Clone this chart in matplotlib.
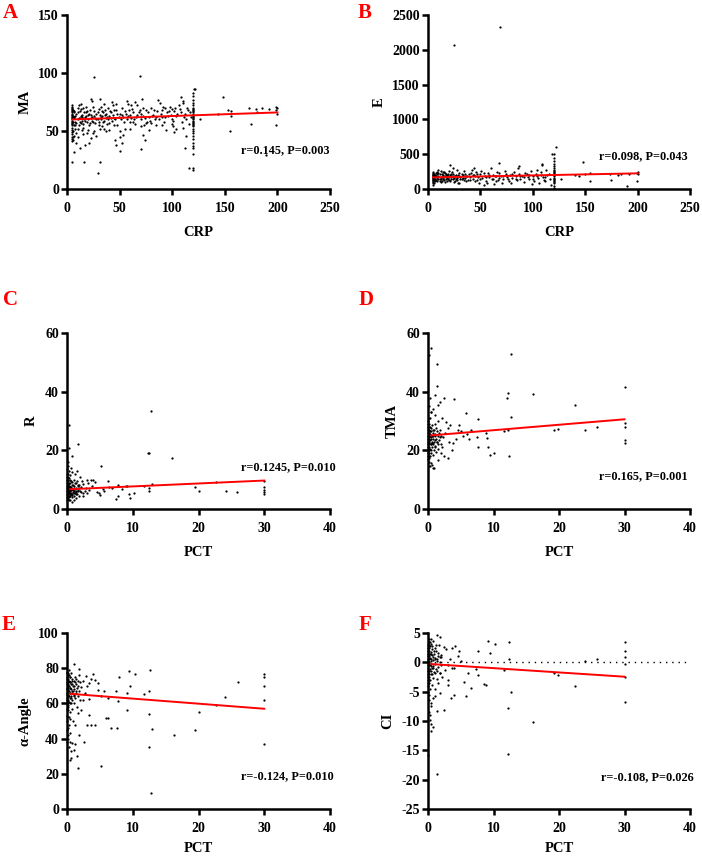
import matplotlib
matplotlib.use("Agg")
import matplotlib.pyplot as plt

plt.rcParams['font.family'] = ['Liberation Serif', 'DejaVu Serif']
plt.rcParams['font.weight'] = 'bold'
plt.rcParams['axes.unicode_minus'] = False

# ---------------- DATA ----------------
# Panel A: MA vs CRP
pts_a = [(5,41),(5,43),(5,45),(5,47),(5,49),(5,51),(5,53),(5,55),(5,56),(5,57),(5,58),(5,59),(5,60),(5,61),(5,62),(5,63),(5,64),(5,65),(5,66),(5,67),(5,68),(5,69),(5,70),(5,71),(5,72),
         (6,42),(6,50),(6,58),(6,63),(7,46),(7,55),(7,61),(7,67),
         (120,16),(120,18),(120,30),(120,35),(120,37),(120,40),(120,43),(120,46),(120,48),(120,50),(120,52),(120,54),(120,55),(120,56),(120,57),(120,58),(120,59),(120,60),(120,61),(120,62),(120,63),(120,64),(120,65),(120,66),(120,67),(120,68),(120,69),(120,70),(120,72),(120,74),(120,77),(120,80),(120,83),(121,86),
         (7,62),(8,58),(9,65),(10,60),(11,55),(12,67),(13,63),(14,59),(15,70),(6,68),(8,52),(9,48),(10,45),(11,72),(12,61),(13,57),(7,66),(14,64),(15,53),(16,60),(17,62),(18,66),(19,58),(20,64),(21,55),(22,68),(23,61),(24,59),(25,71),(26,63),(27,57),(28,65),(29,60),(30,69),(31,52),(32,62),(33,67),(34,58),(35,73),(36,64),(37,61),(38,56),(39,70),(40,63),(42,66),(43,59),(44,72),(45,61),(47,68),(48,55),(50,65),(52,70),(53,62),(55,67),(57,60),(58,73),(60,64),(62,69),(63,58),(65,75),(66,62),(68,66),(70,60),(71,78),(72,63),(73,55),(75,68),(76,58),(78,62),(80,70),(82,64),(84,60),(86,67),(88,74),(90,62),(92,58),(93,70),(95,66),(96,63),(98,71),(100,60),(102,67),(104,63),(106,72),(107,69),(109,58),(110,74),(112,65),(113,60),(115,68),(116,56),(118,62),
         (19,48),(23,44),(26,50),(28,46),(17,38),(21,40),(33,54),(37,50),(40,57),(55,52),(60,58),(65,56),(75,57),(85,55),(94,51),(104,52),(12,35),(9,40),(24,76),(13,73),(18,71),(10,70),(43,75),(47,73),(57,76),(61,72),(67,72),(90,68),(100,69),(32,71),(14,51),(8,55),(6,45),
         (8,63),(9,57),(10,66),(11,61),(12,58),(13,69),(14,62),(15,56),(16,66),(17,59),(18,63),(19,67),(20,60),(21,65),(22,57),(23,64),(24,62),(25,58),(26,67),(27,61),(28,60),(29,66),(30,58),(31,64),(32,60),(33,63),(34,66),(35,59),(36,68),(37,65),(38,62),(39,60),(41,67),(42,61),(44,64),(45,68),(46,60),(48,65),(49,62),(51,60),(52,64),(54,58),(56,65),(58,63),(59,68),(61,61),(63,66),(64,60),(67,64),(69,68),(70,65),(72,70),(74,61),(77,66),(79,59),(81,63),(83,68),(85,62),(87,60),(89,65),(91,71),(93,62),(97,67),(99,64),(101,59),(103,70),(105,65),(108,66),(111,62),(114,70),(117,66),
         (10,52),(15,47),(20,51),(25,48),(30,55),(35,52),(40,51),(45,55),(50,50),(60,52),(70,54),(80,57),(90,55),(100,56),(110,53),
         (25.4,96.4),(69,97),(4.8,23),(16.5,23),(31,23),(29.5,14),(6.7,31.5),(116,18),(112.5,35),(70.5,34.7),(50.5,32.4),(52,39.6),(46.7,37.6),(45.4,42.4),(50,44.5),(53,46.7),(74,42.4),(72,46.7),(77.8,51),(102,48.8),(100.7,54),(113,46),
         (148,79.7),(121.7,86),(153,68),(156,67),(154.7,49.6),(156,63),(173,70),(180,69),(185,70),(192,69),(175,56),(189.6,29),(199,55),(199,71),(199,68),(180.7,66),(126,60),(143.6,64.5),(108.6,79),(110,76),(86.7,77),(31,77.7),(22.9,77.7),(200,70),(200,65)]
fit_a = (59.8, 0.031, 5, 200)  # intercept, slope, x start, x end

# Panel B: E vs CRP
pts_b = [(5,60),(5,80),(5,100),(5,115),(5,125),(5,135),(5,145),(5,155),(5,165),(5,175),(5,185),(5,195),(5,205),(5,215),(5,230),(5,245),(6,90),(6,140),(6,170),(7,110),(7,200),(7,150),
         (120,20),(120,50),(120,80),(120,100),(120,120),(120,135),(120,150),(120,165),(120,180),(120,195),(120,210),(120,225),(120,240),(120,260),(120,280),(120,300),(120,330),(120,360),(120,400),(120,450),(120,500),(122,600),
         (8,130),(9,160),(10,190),(11,120),(12,175),(13,210),(14,145),(15,250),(16,105),(17,180),(18,160),(19,220),(20,135),(21,195),(22,170),(23,240),(24,150),(25,185),(26,120),(27,205),(28,165),(29,90),(30,230),(31,175),(32,140),(33,200),(34,260),(35,160),(36,185),(38,130),(39,215),(40,170),(42,280),(43,150),(44,195),(45,110),(46,240),(48,175),(49,80),(50,210),(52,155),(53,60),(54,190),(55,120),(57,230),(58,170),(60,300),(61,145),(62,200),(64,180),(65,110),(66,250),(68,165),(70,190),(71,90),(72,140),(74,220),(75,170),(77,120),(78,200),(80,160),(82,240),(84,180),(85,130),(87,210),(88,150),(90,190),(92,100),(93,230),(95,170),(96,140),(98,260),(100,185),(101,120),(103,210),(105,160),(106,90),(108,240),(110,175),(111,130),(113,280),(114,200),(116,150),(117,60),
         (10,230),(12,100),(14,200),(16,230),(18,120),(20,260),(22,210),(25,95),(28,270),(11,150),(13,170),(9,210),(15,175),(17,140),(19,185),(24,300),(30,80),(36,110),(44,300),(47,135),(51,260),(56,85),(63,70),(67,130),(73,260),(79,90),(86,300),(94,215),(99,75),(104,275),(109,340),(112,115),
         (8,190),(9,110),(10,150),(11,210),(12,140),(13,120),(14,170),(15,130),(16,190),(17,220),(18,200),(19,150),(20,170),(21,120),(22,140),(23,190),(24,210),(25,160),(26,180),(27,150),(28,130),(29,200),(30,180),(31,140),(32,220),(33,160),(34,130),(35,210),(37,190),(40,130),(41,230),(43,200),(45,180),(47,210),(50,140),(53,230),(55,170),(58,200),(62,150),(65,190),(68,230),(72,180),(76,150),(80,210),(84,140),(88,190),(92,170),(96,200),(100,150),(104,180),(108,200),(112,170),(115,220),(6,210),(7,180),(8,230),(9,250),(10,270),(12,260),(14,240),
         (21,350),(68,370),(87,333),(109,357),(25,2071),(69,2324),(118,505),(148,395),(144,190),(150,219),(155,229),(155,110),(174,219),(175,133),(181,205),(184,219),(190,48),(192,219),(199,110),(199,229),(200,215),(200,240),(127,150),(140,200)]
fit_b = (165.5, 0.297, 5, 200)

# Panel C: R vs PCT
pts_c = [(0.05,4),(0.05,5),(0.05,6),(0.05,7),(0.05,8),(0.05,9),(0.05,10),(0.05,11),(0.1,3.5),(0.1,5.5),(0.1,6.5),(0.1,7.5),(0.1,12),(0.15,4.5),(0.15,8.5),(0.2,5),(0.2,6),(0.2,7),(0.2,9.5),(0.25,13),(0.3,4),(0.3,5.8),(0.3,6.8),(0.3,8),(0.35,10.5),(0.4,3),(0.4,5.2),(0.4,7.2),(0.45,6.2),(0.5,4.8),(0.5,8.8),(0.5,11.5),(0.55,5.6),(0.6,7.6),(0.6,14),(0.65,6.4),(0.7,4.2),(0.7,9.2),(0.75,5),(0.8,6.9),(0.8,12.5),(0.9,5.8),(0.9,8.1),(1.0,4.6),(1.0,7.3),(1.0,10),(1.1,6.1),(1.2,5.3),(1.2,8.7),(1.3,3.8),(1.3,7),(1.4,6.3),(1.5,9.6),(1.5,5),(1.6,7.8),(1.7,6.5),(1.8,4.5),(1.9,8.2),(2.0,6),(2.0,11),
         (0.05,3),(0.05,12),(0.05,13.5),(0.1,4.5),(0.1,8.5),(0.1,9.8),(0.15,6),(0.15,7),(0.2,4),(0.2,11),(0.25,5.5),(0.25,8),(0.3,9),(0.3,3.2),(0.35,6),(0.35,7.6),(0.4,4.4),(0.4,9.8),(0.45,5),(0.5,6.6),(0.5,7.4),(0.6,5.2),(0.6,9.5),(0.7,6.8),(0.8,4.8),(0.8,8.3),(0.9,6.5),(1.0,5.6),(1.1,8),(1.2,6.8),(1.3,5),(1.4,9),(1.6,6),(1.8,7.2),(2.2,7.5),(2.4,5.5),(0.15,16),(0.2,14.5),
         (0.35,28.5),(0.35,20.7),(1.7,22.1),(0.7,18.2),(5.2,14.5),(12.3,19),(12.5,19.2),(12.8,33.3),(16,17.5),(19.4,7.6),(20.1,6.2),(22.6,9.1),(24.2,6.3),(25.8,5.9),(30,9.7),(30,7.6),(30,6.5),(30,5.7),(30,5.0),(12.9,8.4),(12.5,6.3),(12.5,7.3),(11.7,7.7),(10.2,5.4),(9.5,5.0),(9.6,3.6),(7.7,4.6),(7.5,3.4),(9.1,7.9),(7.7,8.2),(6.2,9.6),(6.4,7.6),(5.4,6.8),(4.9,5.4),(4.2,9.3),(3.6,9.9),(3.2,9.0),(2.9,7.1),(2.5,4.6),(2.1,5.9),(1.6,8.2),(1.4,5.9),(1.0,3.1),(0.8,2.5),(2.3,9.5),(2.7,6.3),(3.0,5.5),(3.4,6.6),(3.8,8.0),(4.5,5.9),(5.0,4.9),(5.7,6.2),(6.8,7.1),(8.3,6.7),(9.0,7.8),(2.5,8.5),(3.0,10),(4.0,10),(1.2,12),(1.5,13)]
fit_c = (6.7, 0.10, 0.5, 30)

# Panel D: TMA vs PCT
pts_d = [(0.05,18),(0.05,20),(0.05,22),(0.05,24),(0.05,26),(0.05,28),(0.05,30),(0.1,16),(0.1,19),(0.1,21),(0.1,23),(0.1,25),(0.1,27),(0.15,29),(0.2,17.5),(0.2,22.5),(0.2,24.5),(0.25,26.5),(0.3,20.5),(0.3,23.5),(0.3,31),(0.35,25.5),(0.4,19),(0.4,27.5),(0.45,22),(0.5,24),(0.5,33),(0.55,21),(0.6,25),(0.6,28.5),(0.65,23),(0.7,18.5),(0.7,26),(0.75,34),(0.8,22),(0.8,24.8),(0.9,20),(0.9,27),(1.0,23.5),(1.0,25.5),(1.0,32),(1.1,21.5),(1.1,29),(1.2,24),(1.2,19.5),(1.3,26.5),(1.4,22.8),(1.5,25),(1.5,30),(1.6,20.5),(1.7,23.5),(1.8,27),(1.9,24.5),(2.0,22),(2.0,19),(0.3,14.5),(0.6,15),(0.9,14),
         (0.05,17),(0.05,19),(0.05,21),(0.05,23),(0.05,25),(0.05,27),(0.05,29),(0.1,18),(0.1,20),(0.1,22),(0.1,24),(0.1,26),(0.1,28),(0.1,31),(0.2,20),(0.2,26.5),(0.3,18),(0.3,25),(0.3,28),(0.4,22),(0.4,24.5),(0.5,20),(0.5,26.5),(0.6,22.5),(0.7,24),(0.8,27),(0.9,23),(1.0,21),(1.1,25),(1.2,27.5),(1.3,23),(1.5,22),(1.7,26),(2.0,25),(0.2,35),(0.4,33),(0.2,14.8),
         (0.5,55),(0.1,52.4),(1.4,49.4),(1.3,42.1),(1.0,39),(1.9,36.4),(2.5,37.8),(4.0,37.6),(0.3,38),(12.6,52.8),(12.2,39.5),(12.1,38),(12.7,31.5),(16,39.2),(22.5,35.3),(30,41.5),(30,29.3),(30,28.1),(30,23.6),(30,22.4),(25.8,28.1),(23.9,27),(19.8,27.3),(19.2,26.9),(12.3,17.9),(11.6,26.7),(12.2,27),(5.8,32.7),(7.6,30.8),(8.9,25.9),(9.0,24.1),(9.1,21),(9.4,18.5),(10.1,19),(7.5,24.4),(7.6,21.3),(6.2,23.9),(6.0,25.5),(5.3,25),(4.8,28.5),(4.6,27),(3.6,20.2),(3.0,17.3),(2.4,17.9),(1.6,16.7),(0.8,14.1),(0.5,15.6),(2.1,21.3),(2.8,29.8),(3.0,27.6),(3.3,28.7),(2.3,24.5),(2.6,26),(3.2,23),(3.8,22.5),(4.2,24),(5.0,26.5),(6.5,27),(2.2,31),(1.5,35.5)]
fit_d = (25.0, 0.186, 0.5, 30)

# Panel E: alpha-Angle vs PCT
pts_e = [(0.05,60),(0.05,63),(0.05,66),(0.05,69),(0.05,72),(0.05,75),(0.05,78),(0.05,50),(0.05,45),(0.1,56),(0.1,62),(0.1,65),(0.1,68),(0.1,71),(0.1,74),(0.1,77),(0.15,40),(0.2,58),(0.2,64),(0.2,70),(0.2,76),(0.25,52),(0.3,61),(0.3,67),(0.3,73),(0.3,79),(0.35,48),(0.4,63),(0.4,69),(0.4,75),(0.45,55),(0.5,66),(0.5,72),(0.5,43),(0.55,60),(0.6,68),(0.6,77),(0.65,64),(0.7,71),(0.7,57),(0.75,74),(0.8,62),(0.8,67),(0.9,70),(0.9,50),(1.0,65),(1.0,73),(1.1,68),(1.1,60),(1.2,75),(1.2,63),(1.3,71),(1.4,66),(1.5,69),(1.5,58),(1.6,73),(1.7,64),(1.8,76),(1.9,67),(2.0,72),(2.0,62),(0.3,35),(0.6,33),(0.5,38),
         (0.05,53),(0.05,57),(0.05,62),(0.05,65),(0.05,68),(0.05,71),(0.05,74),(0.05,77),(0.1,59),(0.1,64),(0.1,70),(0.1,73),(0.1,76),(0.2,61),(0.2,67),(0.2,72),(0.3,64),(0.3,70),(0.3,76),(0.4,60),(0.4,66),(0.4,72),(0.5,69),(0.5,75),(0.6,63),(0.6,71),(0.7,66),(0.8,73),(0.9,67),(1.0,70),(1.1,64),(1.2,72),(1.3,67),(1.4,74),(1.6,70),(0.2,46),(0.4,51),(0.1,42),(0.05,38),
         (1.0,82.4),(1.9,79.5),(9.5,78.6),(10.3,76.5),(12.6,79.2),(7.9,75),(9.6,69.7),(9.2,65.9),(7.4,66.9),(7.7,61.6),(9.1,56.4),(12.5,54),(12.5,67.2),(11.7,65.5),(13,45.5),(12.4,35.2),(12.8,9.1),(16.2,41.9),(19.4,44.7),(20.1,55.3),(22.6,59.3),(24.1,63.4),(26,72),(30,76.7),(30,75),(30,69.7),(30,62.1),(30,36.9),(5.2,24.2),(1.7,23.1),(0.5,28),(0.6,29),(1.5,30.3),(1.0,33.7),(0.7,37.5),(1.2,36.9),(2.6,38.3),(3,47.7),(3.6,47.9),(4.3,47.5),(5.9,51.7),(6.3,51.5),(6.7,45.8),(7.6,46.2),(3.4,53.6),(1.6,54.5),(2.1,56.4),(5.2,64),(5.7,66.9),(6.3,63.1),(4.7,67.4),(4.2,73.5),(3.9,76.9),(3.4,71.6),(2.9,75.4),(4.7,71.6),(3.3,62.7),(2.5,61.7),(2.1,69.3),(2.4,72.5),(2.8,66),(3.0,70),(3.6,74),(1.2,48),(1.8,42)]
fit_e = (65.6, -0.288, 0.5, 30)

# Panel F: CI vs PCT
pts_f = [(0.05,-5),(0.05,-4),(0.05,-3),(0.05,-2),(0.05,-1),(0.05,0),(0.05,1),(0.05,2),(0.05,3),(0.1,-6.5),(0.1,-3.5),(0.1,-1.5),(0.1,0.5),(0.1,2.5),(0.1,4),(0.15,-2.5),(0.2,-0.5),(0.2,1.5),(0.2,3.5),(0.25,-4.5),(0.3,-1.2),(0.3,0.8),(0.3,2.8),(0.35,-3),(0.4,-0.2),(0.4,1.8),(0.45,-2),(0.5,0.3),(0.5,3.2),(0.5,-7.5),(0.55,-1),(0.6,1.2),(0.6,-3.8),(0.65,2.2),(0.7,-0.6),(0.75,-2.6),(0.8,0.9),(0.8,3.6),(0.9,-1.6),(0.9,1.5),(1.0,-0.3),(1.0,2.4),(1.1,-4.5),(1.1,0.6),(1.2,1.9),(1.2,-1.2),(1.3,-2.8),(1.4,0.2),(1.5,1.6),(1.5,-0.8),(1.6,-3.5),(1.7,2.9),(1.8,-1.9),(1.9,0.9),(2.0,-0.4),(2.0,1.3),(0.3,-9),(0.7,-6),
         (0.05,-0.5),(0.05,0.5),(0.05,1.5),(0.05,2.5),(0.05,-1.5),(0.05,-2.5),(0.05,-3.5),(0.1,-0.5),(0.1,1),(0.1,3),(0.1,-2),(0.2,0),(0.2,2),(0.2,-1.5),(0.2,-3),(0.3,-0.3),(0.3,1.5),(0.3,3.5),(0.4,0.6),(0.4,-1.5),(0.5,-0.6),(0.5,1.5),(0.6,-2),(0.6,2.8),(0.7,0.4),(0.8,-1),(0.9,2),(1.0,0.7),(1.1,-1.8),(1.2,3),(1.3,0.5),(1.4,-1.5),(1.6,1),(1.8,0),(0.2,-5.5),(0.4,-7),(0.1,-8.5),
         (0,-15.8),(1.4,-19.1),(12.2,-15.7),(16,-10.2),(12.2,-7.8),(12.7,-5.1),(22.5,-4.1),(30,-6.7),(30,-2.5),(30,3.4),(30,2.0),(30,0.9),(30,-0.2),(19.3,-1.9),(19.9,-2.1),(23.9,0.2),(25.8,0.5),(9.1,3.7),(10.2,3.2),(12.3,3.4),(9.4,1.6),(7.6,2.0),(7.6,-2.1),(7.4,-1.1),(8.5,-3.7),(8.9,-3.8),(11.6,-1.3),(12.4,0.6),(6.1,-1.8),(5.8,-5.7),(6.5,-4.4),(5.5,-3.4),(4.7,1.9),(4.6,1.1),(4.1,2.7),(3.6,2.5),(3.0,-3.0),(3.1,-3.8),(3.5,-6.1),(3.96,-5.6),(2.5,-8.1),(1.9,-5.2),(1.4,-8.3),(1.0,-5.8),(0.5,-10.5),(0.5,-11.7),(0.3,-9.8),(0.8,-11.0),(1.4,4.7),(1.8,4.4),(0.4,3.9),(2.4,2.6),(2.8,2.2),(2.0,0.9),(3,-0.4),(3.6,-1.0),(1.8,-1.8),(2.2,-2.5),(2.6,-1.3),(3.3,0.5),(4.0,-0.9),(5.0,0.3)]
fit_f = (-0.26, -0.073, 0.5, 30)

panel_letters = ['A', 'B', 'C', 'D', 'E', 'F']
x_labels = ['CRP', 'CRP', 'PCT', 'PCT', 'PCT', 'PCT']
y_labels = ['MA', 'E', 'R', 'TMA', 'α-Angle', 'CI']
stats_text = ['r=0.145, P=0.003', 'r=0.098, P=0.043', 'r=0.1245, P=0.010',
              'r=0.165, P=0.001', 'r=-0.124, P=0.010', 'r=-0.108, P=0.026']
x_ticks = [[0, 50, 100, 150, 200, 250], [0, 50, 100, 150, 200, 250],
           [0, 10, 20, 30, 40], [0, 10, 20, 30, 40], [0, 10, 20, 30, 40], [0, 10, 20, 30, 40]]
y_ticks = [[0, 50, 100, 150], [0, 500, 1000, 1500, 2000, 2500], [0, 20, 40, 60],
           [0, 20, 40, 60], [0, 20, 40, 60, 80, 100], [-25, -20, -15, -10, -5, 0, 5]]

all_pts = [pts_a, pts_b, pts_c, pts_d, pts_e, pts_f]
all_fits = [fit_a, fit_b, fit_c, fit_d, fit_e, fit_f]

# ---------------- LAYOUT ----------------
W, H = 702, 856
fig = plt.figure(figsize=(W / 100, H / 100), dpi=100)

col_px = [(67, 330), (428, 690)]
row_px = [(15, 189), (333, 509), (633, 809)]
letter_px = [(3, 18), (358, 18), (3, 305), (359, 305), (2, 630), (359, 630)]
stats_pos = [(0.997, 0.222), (0.992, 0.187), (1.02, 0.237), (0.991, 0.184), (1.013, 0.186), (1.013, 0.183)]

for i in range(6):
    r, c = divmod(i, 2)
    x0, x1 = col_px[c]
    t, b = row_px[r]
    ax = fig.add_axes([x0 / W, 1 - b / H, (x1 - x0) / W, (b - t) / H])
    pts = all_pts[i]
    xs = [p[0] for p in pts]
    ys = [p[1] for p in pts]
    ax.scatter(xs, ys, s=2.6, c='black', marker='o', linewidths=0, zorder=3, clip_on=False)
    a0, k, xs0, xs1 = all_fits[i]
    ax.plot([xs0, xs1], [a0 + k * xs0, a0 + k * xs1], color='#ff0000', lw=1.4, zorder=4)
    if i == 5:
        ax.plot([0, 40], [0, 0], color='black', lw=1.0, linestyle=(0, (1, 3.5)), zorder=2)

    ax.set_xlim(x_ticks[i][0], x_ticks[i][-1])
    ax.set_ylim(y_ticks[i][0], y_ticks[i][-1])
    ax.set_xticks(x_ticks[i])
    ax.set_yticks(y_ticks[i])
    for s in ['top', 'right']:
        ax.spines[s].set_visible(False)
    for s in ['left', 'bottom']:
        ax.spines[s].set_linewidth(1.8)
    ax.tick_params(axis='both', direction='out', length=4.3, width=1.8, labelsize=10)
    ax.tick_params(axis='x', pad=5)
    ax.tick_params(axis='y', pad=1.5)
    for lab in ax.get_xticklabels() + ax.get_yticklabels():
        lab.set_fontweight('bold')
    ax.set_xlabel(x_labels[i], fontsize=10.5, fontweight='bold', labelpad=(5 if r == 2 else 8))
    ax.set_ylabel(y_labels[i], fontsize=10.5, fontweight='bold', labelpad=5)
    ax.text(stats_pos[i][0], stats_pos[i][1], stats_text[i], transform=ax.transAxes,
            ha='right', va='center', fontsize=8.8, fontweight='bold')

    lx, ly = letter_px[i]
    fig.text(lx / W, 1 - ly / H, panel_letters[i], color='#ff0000', fontsize=15,
             fontweight='bold', ha='left', va='baseline')

fig.savefig('out.png', dpi=100)
